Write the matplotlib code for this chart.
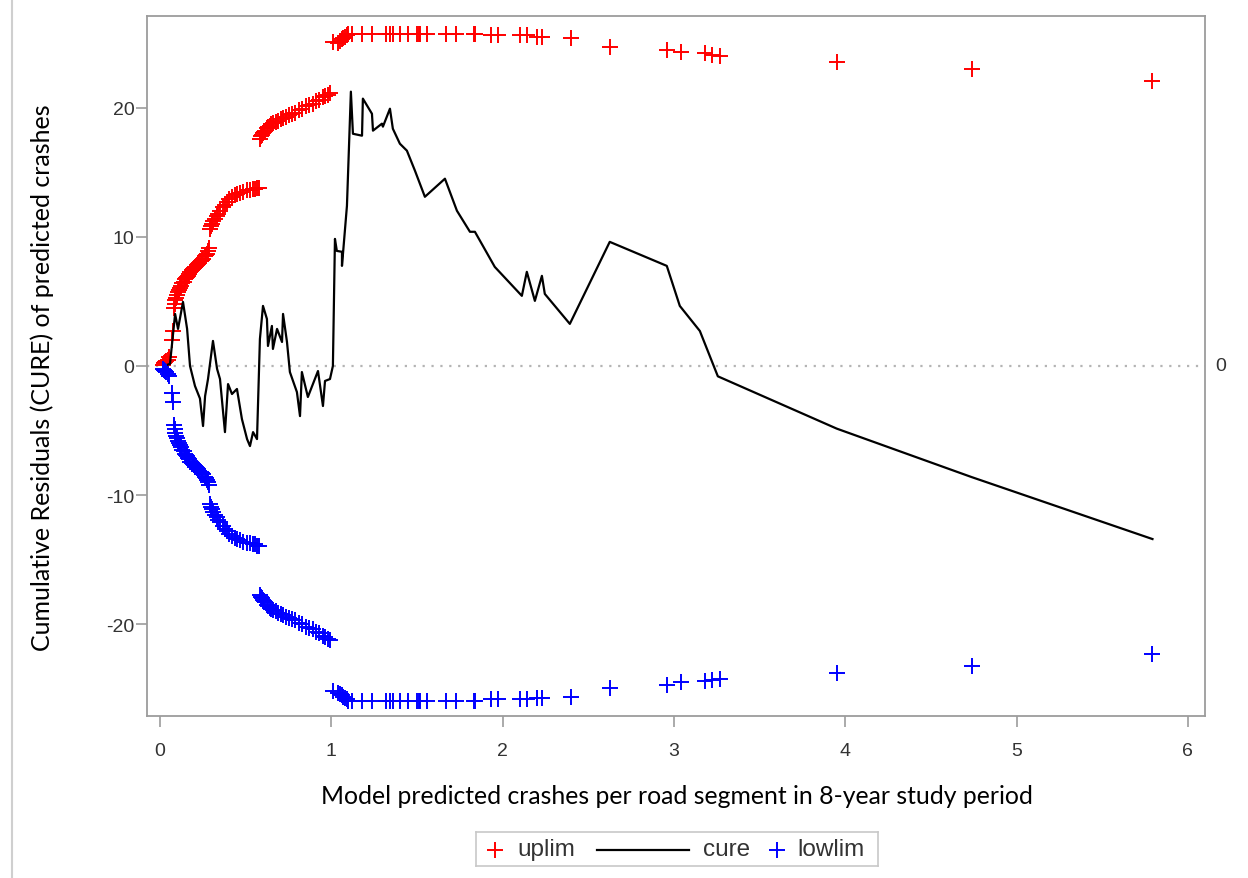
import matplotlib.pyplot as plt
from matplotlib.lines import Line2D

plt.rcParams['axes.unicode_minus'] = False

# cure line (cumulative residuals)
cure_x = [0.02, 0.058, 0.088, 0.105, 0.134, 0.158, 0.175, 0.204, 0.233, 0.251,
          0.263, 0.280, 0.309, 0.333, 0.350, 0.379, 0.397, 0.420, 0.449, 0.478,
          0.508, 0.525, 0.543, 0.566, 0.583, 0.601, 0.624, 0.630, 0.653, 0.659,
          0.683, 0.712, 0.718, 0.741, 0.758, 0.799, 0.817, 0.828, 0.863, 0.922,
          0.951, 0.963, 0.992, 1.009, 1.021, 1.032, 1.062, 1.062, 1.091, 1.114,
          1.126, 1.179, 1.184, 1.237, 1.243, 1.295, 1.301, 1.342, 1.359, 1.400,
          1.441, 1.488, 1.546, 1.663, 1.733, 1.809, 1.838, 1.954, 2.112, 2.141,
          2.188, 2.229, 2.246, 2.392, 2.625, 2.958, 3.034, 3.151, 3.256, 3.95,
          4.737, 5.793]
cure = [0.0, 0.16, 4.03, 2.87, 4.96, 2.87, 0.0, -1.55, -2.52, -4.65,
        -2.33, -1.01, 1.94, -0.23, -1.01, -5.12, -1.40, -2.17, -1.78, -4.11,
        -5.66, -6.20, -5.12, -5.66, 2.09, 4.65, 3.64, 1.55, 3.10, 1.32,
        2.87, 1.86, 4.03, 1.86, -0.47, -2.02, -3.88, -0.47, -2.40, -0.39,
        -3.10, -1.16, -1.01, 0.0, 9.84, 8.91, 8.84, 7.75, 12.40, 21.24,
        17.98, 17.83, 20.70, 19.53, 18.22, 18.76, 18.53, 19.92, 18.37, 17.21,
        16.67, 15.12, 13.10, 14.50, 12.02, 10.39, 10.39, 7.67, 5.43, 7.29,
        5.04, 6.98, 5.58, 3.26, 9.61, 7.75, 4.65, 2.71, -0.80, -4.85,
        -8.60, -13.40]

# limits (+/- 2 sigma*)
lim_x = [0.015, 0.022, 0.030, 0.037, 0.045, 0.052, 0.068, 0.074,
         0.080, 0.085, 0.090, 0.095, 0.100, 0.105, 0.110, 0.118, 0.125, 0.130,
         0.137, 0.145, 0.150, 0.157, 0.163, 0.170, 0.177, 0.185, 0.192, 0.200,
         0.207, 0.215, 0.222, 0.230, 0.237, 0.245, 0.252, 0.260, 0.268, 0.275,
         0.282, 0.288,
         0.292, 0.298, 0.305, 0.312, 0.320, 0.330, 0.340, 0.352, 0.365, 0.378,
         0.392, 0.405, 0.420, 0.435, 0.450, 0.468, 0.485, 0.505, 0.525, 0.540,
         0.555, 0.568, 0.578,
         0.585, 0.590, 0.596, 0.602, 0.608, 0.615, 0.622, 0.630, 0.640, 0.650,
         0.662, 0.675, 0.690, 0.705, 0.720, 0.735, 0.750, 0.770, 0.790, 0.810,
         0.830, 0.850, 0.870, 0.890, 0.910, 0.930, 0.950, 0.965, 0.980, 0.992,
         1.009, 1.04, 1.05, 1.06, 1.07, 1.08, 1.09, 1.10, 1.12, 1.18,
         1.24, 1.32, 1.34, 1.36, 1.40, 1.45, 1.50, 1.51, 1.52, 1.56,
         1.67, 1.73, 1.83, 1.84, 1.93, 1.97, 2.10, 2.14, 2.20, 2.23,
         2.40,
         2.625, 2.96, 3.04, 3.18, 3.22, 3.27, 3.95, 4.74, 5.79]
uplim = [0.1, 0.2, 0.3, 0.4, 0.5, 0.7, 2.0, 2.7,
         4.5, 4.8, 5.1, 5.3, 5.5, 5.7, 5.9, 6.0, 6.2, 6.4,
         6.5, 6.7, 6.8, 6.9, 7.0, 7.1, 7.3, 7.4, 7.5, 7.6,
         7.7, 7.8, 7.9, 8.0, 8.1, 8.2, 8.3, 8.5, 8.6, 8.7,
         8.9, 9.1,
         10.6, 10.8, 11.0, 11.2, 11.4, 11.6, 11.8, 12.0, 12.3, 12.5,
         12.7, 12.9, 13.1, 13.2, 13.3, 13.4, 13.5, 13.6, 13.6, 13.7,
         13.7, 13.8, 13.8,
         17.6, 17.8, 17.9, 18.0, 18.1, 18.2, 18.4, 18.5, 18.6, 18.7,
         18.8, 18.9, 19.0, 19.1, 19.2, 19.3, 19.4, 19.5, 19.6, 19.8,
         19.9, 20.1, 20.2, 20.3, 20.5, 20.6, 20.8, 20.9, 21.0, 21.1,
         25.1, 25.0, 25.2, 25.3, 25.4, 25.5, 25.6, 25.7, 25.7, 25.7,
         25.7, 25.7, 25.7, 25.7, 25.7, 25.7, 25.7, 25.7, 25.7, 25.7,
         25.7, 25.7, 25.7, 25.7, 25.6, 25.6, 25.6, 25.6, 25.5, 25.5,
         25.4,
         24.7, 24.5, 24.3, 24.2, 24.1, 24.0, 23.5, 23.0, 22.1]
lowlim = [-0.2, -0.3, -0.4, -0.5, -0.6, -0.8, -2.1, -2.8,
          -4.6, -4.9, -5.2, -5.4, -5.6, -5.8, -6.0, -6.1, -6.3, -6.5,
          -6.6, -6.8, -6.9, -7.0, -7.1, -7.2, -7.4, -7.5, -7.6, -7.7,
          -7.8, -7.9, -8.0, -8.1, -8.2, -8.3, -8.4, -8.6, -8.7, -8.8,
          -9.0, -9.2,
          -10.7, -10.9, -11.1, -11.3, -11.5, -11.7, -11.9, -12.1, -12.4, -12.6,
          -12.8, -13.0, -13.2, -13.3, -13.4, -13.5, -13.6, -13.7, -13.7, -13.8,
          -13.8, -13.9, -13.9,
          -17.7, -17.9, -18.0, -18.1, -18.2, -18.3, -18.5, -18.6, -18.7, -18.8,
          -18.9, -19.0, -19.1, -19.2, -19.3, -19.4, -19.5, -19.6, -19.7, -19.9,
          -20.0, -20.2, -20.3, -20.4, -20.6, -20.7, -20.9, -21.0, -21.1, -21.2,
          -25.2, -25.3, -25.4, -25.5, -25.6, -25.7, -25.8, -25.9, -25.9, -25.9,
          -25.9, -25.9, -25.9, -25.9, -25.9, -25.9, -25.9, -25.9, -25.9, -25.9,
          -25.9, -25.9, -25.9, -25.9, -25.8, -25.8, -25.8, -25.8, -25.7, -25.7,
          -25.6,
          -24.9, -24.7, -24.5, -24.4, -24.3, -24.2, -23.8, -23.2, -22.3]

x_ticks = [0, 1, 2, 3, 4, 5, 6]
y_ticks = [-20, -10, 0, 10, 20]

frame_col = '#9c9c9c'
txt_col = '#333333'

fig = plt.figure(figsize=(12.48, 8.79), dpi=100)
ax = fig.add_axes([0.1178, 0.1843, 0.8478, 0.7964])

ax.axhline(0, color='#b4b4b4', lw=1.6, ls=(0, (1.0, 3.0)), zorder=1)
ax.plot(lim_x, uplim, ls='none', marker='+', ms=11, mew=1.4, color='#ff0000', zorder=3)
ax.plot(cure_x, cure, color='black', lw=1.6, zorder=4)
ax.plot(lim_x, lowlim, ls='none', marker='+', ms=11, mew=1.4, color='#0000ff', zorder=5)

ax.set_xlim(-0.076, 6.1)
ax.set_ylim(-27.1, 27.1)
ax.set_xticks(x_ticks)
ax.set_yticks(y_ticks)
for s in ax.spines.values():
    s.set_color(frame_col)
    s.set_linewidth(1.3)
ax.tick_params(direction='out', length=8, width=1.2, color=frame_col,
               labelcolor=txt_col, labelsize=14)
ax.tick_params(axis='x', pad=11)
ax.tick_params(axis='y', pad=1)
for lab in ax.get_xticklabels() + ax.get_yticklabels():
    lab.set_fontfamily('Liberation Sans')

# label of the reference line on the right
ax.text(1.0095, 0, '0', transform=ax.get_yaxis_transform(), ha='left', va='center',
        fontsize=14, color=txt_col, family='Liberation Sans')

fig.text(677 / 1248, 1 - 797 / 879,
         'Model predicted crashes per road segment in 8-year study period',
         ha='center', va='center', fontsize=17.8, family='Lato', color='black')
fig.text(42 / 1248, 1 - 378 / 879,
         'Cumulative Residuals (CURE) of predicted crashes',
         ha='center', va='center', rotation=90, fontsize=18, family='Lato', color='black')

# legend box drawn below the plot
lg = fig.add_axes([476 / 1248, 1 - 867 / 879, 402 / 1248, 34 / 879])
lg.set_xlim(476, 878)
lg.set_ylim(867, 833)
lg.set_xticks([])
lg.set_yticks([])
for s in lg.spines.values():
    s.set_color('#c8c8c8')
    s.set_linewidth(1.2)
lg.plot([495], [851], ls='none', marker='+', ms=11, mew=1.4, color='#ff0000')
lg.text(517, 850, 'uplim', va='center', fontsize=17.5, family='Liberation Sans', color=txt_col)
lg.plot([597, 689], [851, 851], color='black', lw=1.6)
lg.text(703, 850, 'cure', va='center', fontsize=17.5, family='Liberation Sans', color=txt_col)
lg.plot([777], [851], ls='none', marker='+', ms=11, mew=1.4, color='#0000ff')
lg.text(797, 850, 'lowlim', va='center', fontsize=17.5, family='Liberation Sans', color=txt_col)

# page edge line on the left
fig.add_artist(Line2D([12 / 1248, 12 / 1248], [0, 1], color='#cfcfcf', lw=1.5))

plt.savefig('out.png', dpi=100)
